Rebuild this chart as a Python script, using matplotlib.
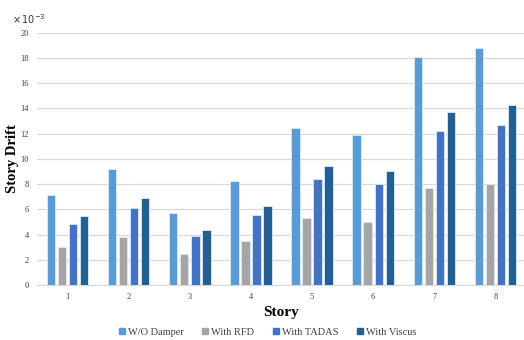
import matplotlib
matplotlib.use("Agg")
import matplotlib.pyplot as plt
import numpy as np
from matplotlib.lines import Line2D

stories = ["1", "2", "3", "4", "5", "6", "7", "8"]
wo_damper = [7.13, 9.17, 5.68, 8.27, 12.42, 11.89, 18.09, 18.80]
with_rfd = [3.01, 3.83, 2.46, 3.51, 5.28, 5.02, 7.66, 8.00]
with_tadas = [4.83, 6.13, 3.88, 5.57, 8.38, 8.03, 12.20, 12.65]
with_viscus = [5.47, 6.87, 4.33, 6.26, 9.43, 9.03, 13.71, 14.29]
series_names = ["W/O Damper", "With RFD", "With TADAS", "With Viscus"]
colors = ["#5B9BD5", "#A5A5A5", "#4472C4", "#255E91"]

serif = "Liberation Serif"
fig = plt.figure(figsize=(5.24, 3.40), dpi=100)
ax = fig.add_axes([37/524, 1-285/340, (526-37)/524, (285-32.7)/340])

x = np.arange(len(stories))
pitch = 0.18
width = 0.137
for i, (vals, c) in enumerate(zip([wo_damper, with_rfd, with_tadas, with_viscus], colors)):
    ax.bar(x + (i - 1.5) * pitch, vals, width, color=c, edgecolor="#DDEBF7",
           linewidth=0.6, zorder=3, label=series_names[i])

ax.set_xlim(-0.5, len(stories) - 0.5)
ax.set_ylim(0, 20)
ax.set_yticks(np.arange(0, 21, 2))
ax.set_xticks(x)
ax.set_xticklabels(stories)
ax.grid(axis="y", color="#D9D9D9", linewidth=0.9, zorder=0)
for s in ["top", "right", "left"]:
    ax.spines[s].set_visible(False)
ax.spines["bottom"].set_color("#D9D9D9")
ax.spines["bottom"].set_linewidth(0.9)
ax.tick_params(axis="both", length=0, labelsize=6, colors="#404040", pad=6)
for lab in ax.get_xticklabels() + ax.get_yticklabels():
    lab.set_fontfamily(serif)

fig.text(12.5/524, 1-158.5/340, "Story Drift", fontfamily=serif, fontweight="bold",
         fontsize=10.5, rotation=90, ha="center", va="center")
fig.text(281.5/524, 1-312.7/340, "Story", fontfamily=serif, fontweight="bold",
         fontsize=11, ha="center", va="center")
fig.text(12/524, 1-19/340, r"$\times\,10^{-3}$", fontsize=7, ha="left", va="center", color="#333333")

handles = [Line2D([0], [0], marker="s", linestyle="", markersize=4, color=c) for c in colors]
leg = fig.legend(handles, series_names, loc="center", bbox_to_anchor=(267/524, 1-332/340),
                 ncol=4, frameon=False, prop={"family": serif, "size": 7.5},
                 handletextpad=0.15, columnspacing=1.7, handlelength=0.8)
for t in leg.get_texts():
    t.set_color("#404040")

fig.savefig("out.png", dpi=100)
